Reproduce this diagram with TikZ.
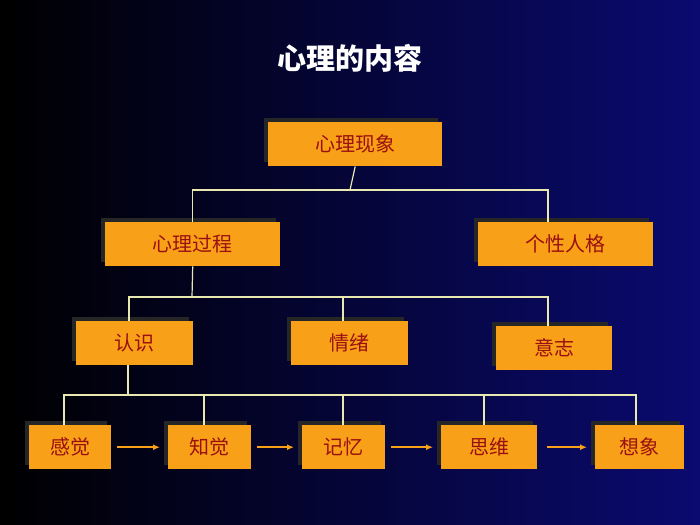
\documentclass[tikz,border=0pt]{standalone}
\usepackage{fontspec}
\newfontfamily\cjk{Noto Sans CJK SC}
\usetikzlibrary{arrows.meta}
\definecolor{boxo}{HTML}{F8A018}
\definecolor{txtr}{HTML}{9A1010}
\definecolor{linec}{HTML}{E8E8B0}
\definecolor{bgr}{HTML}{0A0A70}
\tikzset{
 bx/.style={fill=boxo,draw=none,font=\cjk\fontsize{20}{24}\selectfont,text=txtr,inner sep=0pt,
   minimum height=44pt,anchor=north west},
 ln/.style={draw=linec,line width=1.2pt},
 ar/.style={draw=boxo,line width=1.5pt,-{Latex[length=7pt,width=6pt]}}
}
\newcommand{\bxn}[6]{%
 \fill[black!85] (#2-4,#3-4) rectangle (#4-4,#5-4);
 \node[bx,minimum width=#4-#2] (#1) at (#2,#3) {#6};}
\begin{document}
\begin{tikzpicture}[x=1pt,y=-1pt]
\shade[left color=black,right color=bgr] (0,0) rectangle (700,524);
\useasboundingbox (0,0) rectangle (700,524);
\node[font=\cjk\bfseries\fontsize{29}{34}\selectfont,text=white] (title) at (350,58) {心理的内容};
\bxn{xlxx}{268}{122}{442}{166}{心理现象}
\bxn{xlgc}{105}{222}{280}{266}{心理过程}
\bxn{gxrg}{478}{222}{653}{266}{个性人格}
\bxn{rs}{76}{321}{193}{365}{认识}
\bxn{qx}{291}{321}{408}{365}{情绪}
\bxn{yz}{496}{326}{612}{370}{意志}
\bxn{gj}{29}{425}{111}{469}{感觉}
\bxn{zj}{168}{425}{251}{469}{知觉}
\bxn{jy}{302}{425}{385}{469}{记忆}
\bxn{sw}{441}{425}{537}{469}{思维}
\bxn{xx}{595}{425}{684}{469}{想象}
\coordinate (j1) at (350,190);
\draw[ln] (xlxx.south) -- (j1);
\draw[ln] (xlgc.north) |- (j1) -| (gxrg.north-|548,0);
\coordinate (j2) at (192,297);
\draw[ln] (xlgc.south) -- (j2);
\draw[ln] (rs.north-|129,0) |- (j2);
\draw[ln] (j2) -| (yz.north-|548,0);
\draw[ln] (j2) -| (qx.north-|343,0);
\coordinate (j3) at (128,395);
\draw[ln] (rs.south-|128,0) -- (j3);
\draw[ln] (gj.north-|64,0) |- (j3);
\draw[ln] (j3) -| (xx.north-|636,0);
\draw[ln] (j3) -| (zj.north-|204,0);
\draw[ln] (j3) -| (jy.north-|343,0);
\draw[ln] (j3) -| (sw.north-|484,0);
\draw[ar] ([xshift=6pt]gj.east) -- ([xshift=-8pt]zj.west);
\draw[ar] ([xshift=6pt]zj.east) -- ([xshift=-8pt]jy.west);
\draw[ar] ([xshift=6pt]jy.east) -- ([xshift=-8pt]sw.west);
\draw[ar] ([xshift=10pt]sw.east) -- ([xshift=-8pt]xx.west);
\end{tikzpicture}
\end{document}
